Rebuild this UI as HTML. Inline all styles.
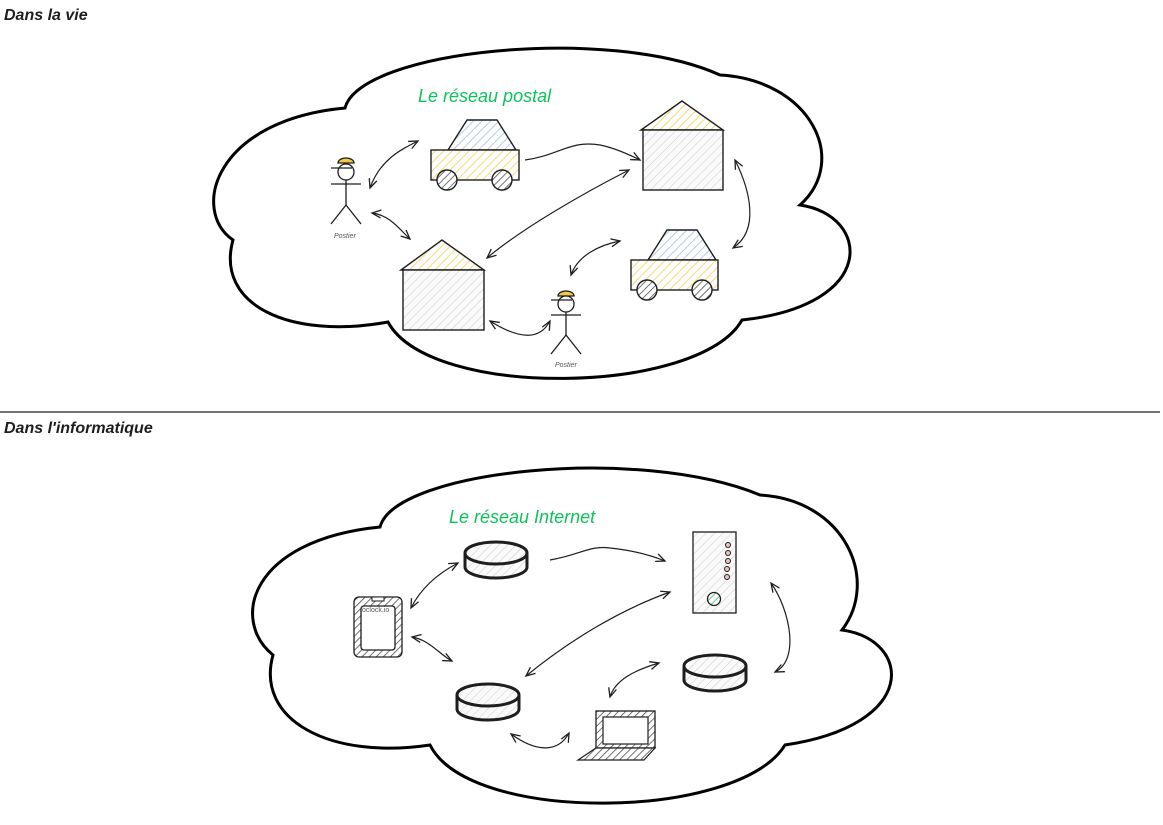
<!DOCTYPE html>
<html><head><meta charset="utf-8"><style>
html,body{margin:0;padding:0;background:#fff;width:1163px;height:825px;overflow:hidden}
svg{display:block}
.t{font-family:"Liberation Sans",sans-serif;font-weight:bold;font-style:italic}
</style></head><body>
<svg width="1163" height="825" viewBox="0 0 1163 825" xmlns="http://www.w3.org/2000/svg">
<defs>
<marker id="a" markerWidth="12" markerHeight="10" refX="10" refY="5" orient="auto-start-reverse" markerUnits="userSpaceOnUse">
<path d="M1,1 L10,5 L1,9" fill="none" stroke="#1e1e1e" stroke-width="1.3"/></marker>
<pattern id="hy" width="6" height="6" patternUnits="userSpaceOnUse" patternTransform="rotate(45)"><rect width="6" height="6" fill="#fff"/><line x1="0" y1="0" x2="0" y2="6" stroke="#f5c948" stroke-width="1.5"/></pattern>
<pattern id="hb" width="6" height="6" patternUnits="userSpaceOnUse" patternTransform="rotate(45)"><rect width="6" height="6" fill="#fff"/><line x1="0" y1="0" x2="0" y2="6" stroke="#9bb8e8" stroke-width="1.5"/></pattern>
<pattern id="hg" width="6" height="6" patternUnits="userSpaceOnUse" patternTransform="rotate(45)"><rect width="6" height="6" fill="#fafafa"/><line x1="0" y1="0" x2="0" y2="6" stroke="#ccc" stroke-width="1"/></pattern>
<pattern id="hd" width="5" height="5" patternUnits="userSpaceOnUse" patternTransform="rotate(45)"><rect width="5" height="5" fill="#fff"/><line x1="0" y1="0" x2="0" y2="5" stroke="#444" stroke-width="1.5"/></pattern>
<pattern id="hgr" width="5" height="5" patternUnits="userSpaceOnUse" patternTransform="rotate(45)"><rect width="5" height="5" fill="#fff"/><line x1="0" y1="0" x2="0" y2="5" stroke="#2fb86a" stroke-width="1.5"/></pattern>
</defs>
<g fill="none" stroke="#000" stroke-width="3">
<path d="M233,240 C190,210 215,120 345,108 C360,50 610,25 720,75 C810,80 850,160 800,205 C870,215 880,305 742,320 C700,395 430,400 388,322 C290,340 215,305 233,240 Z"/>
<path d="M273,655 C230,620 250,540 380,527 C395,470 640,445 760,495 C845,500 880,580 842,630 C912,640 920,725 785,745 C740,820 470,825 430,745 C330,760 255,720 273,655 Z"/>
</g>
<line x1="0" y1="412" x2="1160" y2="412" stroke="#222" stroke-width="1.3"/>
<text class="t" x="4" y="20" font-size="16" fill="#1e1e1e">Dans la vie</text>
<text class="t" x="4" y="433" font-size="16" fill="#1e1e1e">Dans l'informatique</text>
<text class="t" x="418" y="102" font-size="18" fill="#0dc35a" style="font-weight:normal">Le réseau postal</text>
<text class="t" x="449" y="523" font-size="18" fill="#0dc35a" style="font-weight:normal">Le réseau Internet</text>

<g stroke="#1e1e1e" stroke-width="1.4">
<!-- houses -->
<polygon points="641,130 682,101 723,130" fill="url(#hy)"/>
<rect x="643" y="130" width="80" height="60" fill="url(#hg)"/>
<polygon points="401,270 442,240 484,270" fill="url(#hy)"/>
<rect x="403" y="270" width="81" height="60" fill="url(#hg)"/>
<!-- cars -->
<polygon points="448,150 467,120 497,120 516,150" fill="url(#hb)"/>
<rect x="431" y="150" width="88" height="30" fill="url(#hy)"/>
<circle cx="447" cy="180" r="10" fill="url(#hd)"/><circle cx="502" cy="180" r="10" fill="url(#hd)"/>
<polygon points="648,260 667,230 697,230 716,260" fill="url(#hb)"/>
<rect x="631" y="260" width="87" height="30" fill="url(#hy)"/>
<circle cx="647" cy="290" r="10" fill="url(#hd)"/><circle cx="702" cy="290" r="10" fill="url(#hd)"/>
</g>
<!-- stick figures -->
<g stroke="#1e1e1e" stroke-width="1.3" fill="none">
<path d="M338,163 a8,5 0 0 1 16,0 Z" fill="#f5c948"/>
<circle cx="346" cy="172" r="8" fill="#fff"/><line x1="331" y1="168" x2="352" y2="168"/>
<line x1="346" y1="180" x2="346" y2="205"/><line x1="331" y1="184" x2="361" y2="184"/>
<path d="M331,224 L346,205 L361,224"/>
<path d="M558,296 a8,5 0 0 1 16,0 Z" fill="#f5c948"/>
<circle cx="566" cy="304" r="8" fill="#fff"/><line x1="551" y1="300" x2="572" y2="300"/>
<line x1="566" y1="312" x2="566" y2="335"/><line x1="551" y1="315" x2="581" y2="315"/>
<path d="M551,354 L566,335 L581,354"/>
</g>
<text x="334" y="238" font-size="7" font-style="italic" fill="#555" font-family="Liberation Sans,sans-serif">Postier</text>
<text x="555" y="367" font-size="7" font-style="italic" fill="#555" font-family="Liberation Sans,sans-serif">Postier</text>

<!-- bottom devices -->
<g stroke="#1e1e1e">
<g stroke-width="3">
<path d="M465,553 v14 a31,11 0 0 0 62,0 v-14" fill="url(#hg)"/><ellipse cx="496" cy="553" rx="31" ry="11" fill="url(#hg)"/>
<path d="M457,695 v14 a31,11 0 0 0 62,0 v-14" fill="url(#hg)"/><ellipse cx="488" cy="695" rx="31" ry="11" fill="url(#hg)"/>
<path d="M684,666 v14 a31,11 0 0 0 62,0 v-14" fill="url(#hg)"/><ellipse cx="715" cy="666" rx="31" ry="11" fill="url(#hg)"/>
</g>
<rect x="693" y="532" width="43" height="81" fill="url(#hg)" stroke-width="1.3"/>
<g fill="#f3c0c0" stroke-width="1"><circle cx="728" cy="545" r="2.5"/><circle cx="728" cy="553" r="2.5"/><circle cx="728" cy="561" r="2.5"/><circle cx="727" cy="569" r="2.5"/><circle cx="727" cy="577" r="2.5"/></g>
<circle cx="714" cy="599" r="6.5" fill="url(#hgr)" stroke-width="1.3"/>
<rect x="354" y="597" width="48" height="60" rx="5" fill="url(#hd)" stroke-width="1.3"/>
<rect x="361" y="606" width="34" height="44" rx="3" fill="#fff" stroke-width="1.3"/>
<rect x="372" y="597" width="12" height="4" fill="#fff" stroke-width="1"/>
<rect x="596" y="711" width="59" height="37" fill="url(#hd)" stroke-width="1.3"/>
<rect x="603" y="717" width="45" height="27" fill="#fff" stroke-width="1.2"/>
<polygon points="596,748 655,748 644,760 578,760" fill="url(#hd)" stroke-width="1.2"/>
</g>
<text x="362" y="612" font-size="7" fill="#555" font-family="Liberation Sans,sans-serif">oclock.io</text>

<!-- arrows -->
<g fill="none" stroke="#1e1e1e" stroke-width="1.2" marker-start="url(#a)" marker-end="url(#a)">
<path d="M370,188 C380,160 400,150 418,141"/>
<path d="M372,213 C390,215 400,230 410,239"/>
<path d="M487,258 C520,230 580,195 629,170"/>
<path d="M490,321 C520,340 540,340 550,321"/>
<path d="M571,275 C578,255 600,245 620,241"/>
<path d="M735,160 C750,190 760,230 733,248"/>
<path d="M411,608 C420,590 435,575 458,563"/>
<path d="M412,637 C430,640 440,655 452,661"/>
<path d="M526,676 C570,640 620,610 670,592"/>
<path d="M511,734 C540,755 560,750 569,733"/>
<path d="M610,697 C615,680 635,670 659,663"/>
<path d="M771,583 C790,610 800,660 775,672"/>
</g>
<g fill="none" stroke="#1e1e1e" stroke-width="1.2" marker-end="url(#a)">
<path d="M525,160 C560,155 570,140 600,145 C615,148 630,155 640,160"/>
<path d="M550,560 C580,555 590,545 610,548 C630,550 650,555 665,561"/>
</g>
</svg>
</body></html>
